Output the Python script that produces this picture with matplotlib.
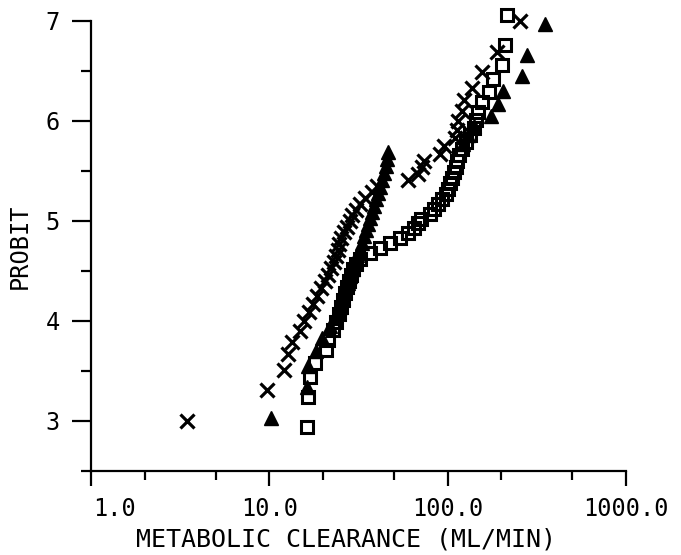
import matplotlib
matplotlib.use("Agg")
import matplotlib.pyplot as plt
from matplotlib.ticker import FixedLocator, FixedFormatter
import matplotlib.transforms as mtransforms

# ---- data ----
cross_x = [3.45, 9.71, 12.1, 12.7, 13.4, 14.9, 15.7, 16.7, 17.6, 18.5, 19.5,
           20.5, 21.3, 22.2, 23.1, 23.7, 24.3, 24.6, 25.3, 26.2, 27.3, 28.4,
           29.1, 30.6, 32.3, 34.4, 37.7, 40.2, 60.0, 68.2, 71.8, 73.7, 90.7,
           95.5, 110.0, 112.9, 114.4, 120.4, 123.6, 137.0, 155.9, 189.3, 254.7]
cross_y = [3.00, 3.31, 3.51, 3.67, 3.79, 3.90, 4.00, 4.09, 4.17, 4.25, 4.33,
           4.40, 4.46, 4.53, 4.59, 4.65, 4.71, 4.77, 4.83, 4.89, 4.94, 5.00,
           5.06, 5.11, 5.17, 5.23, 5.29, 5.35, 5.41, 5.47, 5.54, 5.60, 5.67,
           5.75, 5.83, 5.91, 6.00, 6.10, 6.21, 6.33, 6.49, 6.69, 7.00]

tri_x = [10.2, 16.3, 16.5, 18.3, 19.8, 21.9, 23.7, 24.9, 25.9, 26.6, 27.6,
         28.4, 29.5, 30.2, 31.0, 32.3, 33.1, 34.0, 34.9, 35.8, 36.7, 37.7,
         38.7, 39.7, 40.7, 41.8, 42.9, 44.0, 45.1, 45.7, 46.3, 122.0, 130.0,
         141.0, 175.0, 192.0, 205.0, 261.0, 279.0, 352.0]
tri_y = [3.03, 3.34, 3.55, 3.70, 3.83, 3.95, 4.05, 4.14, 4.23, 4.31, 4.38,
         4.45, 4.52, 4.59, 4.66, 4.72, 4.78, 4.85, 4.91, 4.97, 5.03, 5.09,
         5.15, 5.22, 5.28, 5.34, 5.41, 5.48, 5.55, 5.62, 5.69, 5.77, 5.86,
         5.95, 6.05, 6.17, 6.30, 6.45, 6.66, 6.97]

sq_x = [16.3, 16.5, 16.9, 18.1, 20.8, 21.3, 22.8, 23.7, 24.6, 25.3, 25.9,
        26.6, 27.3, 28.0, 28.7, 29.5, 30.6, 32.3, 36.7, 41.8, 47.5, 54.1,
        60.0, 64.8, 68.2, 70.9, 79.7, 83.9, 88.4, 93.0, 98.0, 100.5, 103.1,
        105.8, 108.6, 111.4, 112.9, 115.9, 120.4, 126.8, 133.6, 140.6, 144.3,
        148.1, 155.9, 170.7, 179.7, 201.9, 209.9, 215.4]
sq_y = [2.94, 3.24, 3.44, 3.58, 3.71, 3.81, 3.91, 3.99, 4.07, 4.14, 4.21,
        4.28, 4.34, 4.40, 4.46, 4.52, 4.57, 4.62, 4.68, 4.73, 4.78, 4.83,
        4.88, 4.93, 4.98, 5.02, 5.07, 5.12, 5.17, 5.22, 5.27, 5.32, 5.38,
        5.43, 5.49, 5.54, 5.60, 5.66, 5.72, 5.79, 5.86, 5.93, 6.01, 6.09,
        6.19, 6.29, 6.42, 6.56, 6.76, 7.06]

x_major = [1.0, 10.0, 100.0, 1000.0]
x_major_labels = ["1.0", "10.0", "100.0", "1000.0"]
x_minor = [2, 5, 20, 50, 200, 500]
y_major = [3, 4, 5, 6, 7]
y_major_labels = ["3", "4", "5", "6", "7"]
y_minor = [2.5, 3.5, 4.5, 5.5, 6.5]

# ---- figure ----
plt.rcParams['font.family'] = ['DejaVu Sans Mono', 'DejaVu Sans']
W, H = 681, 555
fig = plt.figure(figsize=(W / 100, H / 100), dpi=100)
left, right, top, bottom = 91, 626, 21, 471
ax = fig.add_axes([left / W, 1 - bottom / H, (right - left) / W, (bottom - top) / H])
ax.set_xscale('log')
ax.set_xlim(1.0, 1000.0)
ax.set_ylim(2.5, 7.0)

ax.plot(tri_x, tri_y, linestyle='none', marker='^', markersize=10.5,
        markerfacecolor='black', markeredgecolor='black', markeredgewidth=1.0,
        clip_on=False)
ax.plot(sq_x, sq_y, linestyle='none', marker='s', markersize=8.3,
        markerfacecolor='none', markeredgecolor='black', markeredgewidth=2.2,
        clip_on=False)
ax.plot(cross_x, cross_y, linestyle='none', marker='x', markersize=9.5,
        markeredgecolor='black', markeredgewidth=2.3, clip_on=False)

for s in ['top', 'right']:
    ax.spines[s].set_visible(False)
for s in ['left', 'bottom']:
    ax.spines[s].set_linewidth(1.6)
    ax.spines[s].set_color('black')

ax.xaxis.set_major_locator(FixedLocator(x_major))
ax.xaxis.set_major_formatter(FixedFormatter(x_major_labels))
ax.xaxis.set_minor_locator(FixedLocator(x_minor))
ax.xaxis.set_minor_formatter(FixedFormatter([""] * len(x_minor)))
ax.yaxis.set_major_locator(FixedLocator(y_major))
ax.yaxis.set_major_formatter(FixedFormatter(y_major_labels))
ax.yaxis.set_minor_locator(FixedLocator(y_minor))

ax.tick_params(axis='x', which='major', direction='out', length=11, width=1.6,
               pad=8, labelsize=17)
ax.tick_params(axis='x', which='minor', direction='out', length=6.5, width=1.6)
ax.tick_params(axis='y', which='major', direction='out', length=13.5, width=1.6,
               pad=9, labelsize=17)
ax.tick_params(axis='y', which='minor', direction='out', length=7, width=1.6)

fig.canvas.draw()
lbls = ax.get_xticklabels()
lbls[0].set_horizontalalignment('left')
lbls[0].set_transform(lbls[0].get_transform() +
                      mtransforms.ScaledTranslation(2 / 100, 0, fig.dpi_scale_trans))

ax.set_xlabel("METABOLIC CLEARANCE (ML/MIN)", fontsize=18)
ax.xaxis.set_label_coords((346 - left) / (right - left), (bottom - 528) / (bottom - top))
ax.set_ylabel("PROBIT", fontsize=17, va='center')
ax.yaxis.set_label_coords((20 - left) / (right - left), 0.5)

fig.savefig("out.png", dpi=100)
